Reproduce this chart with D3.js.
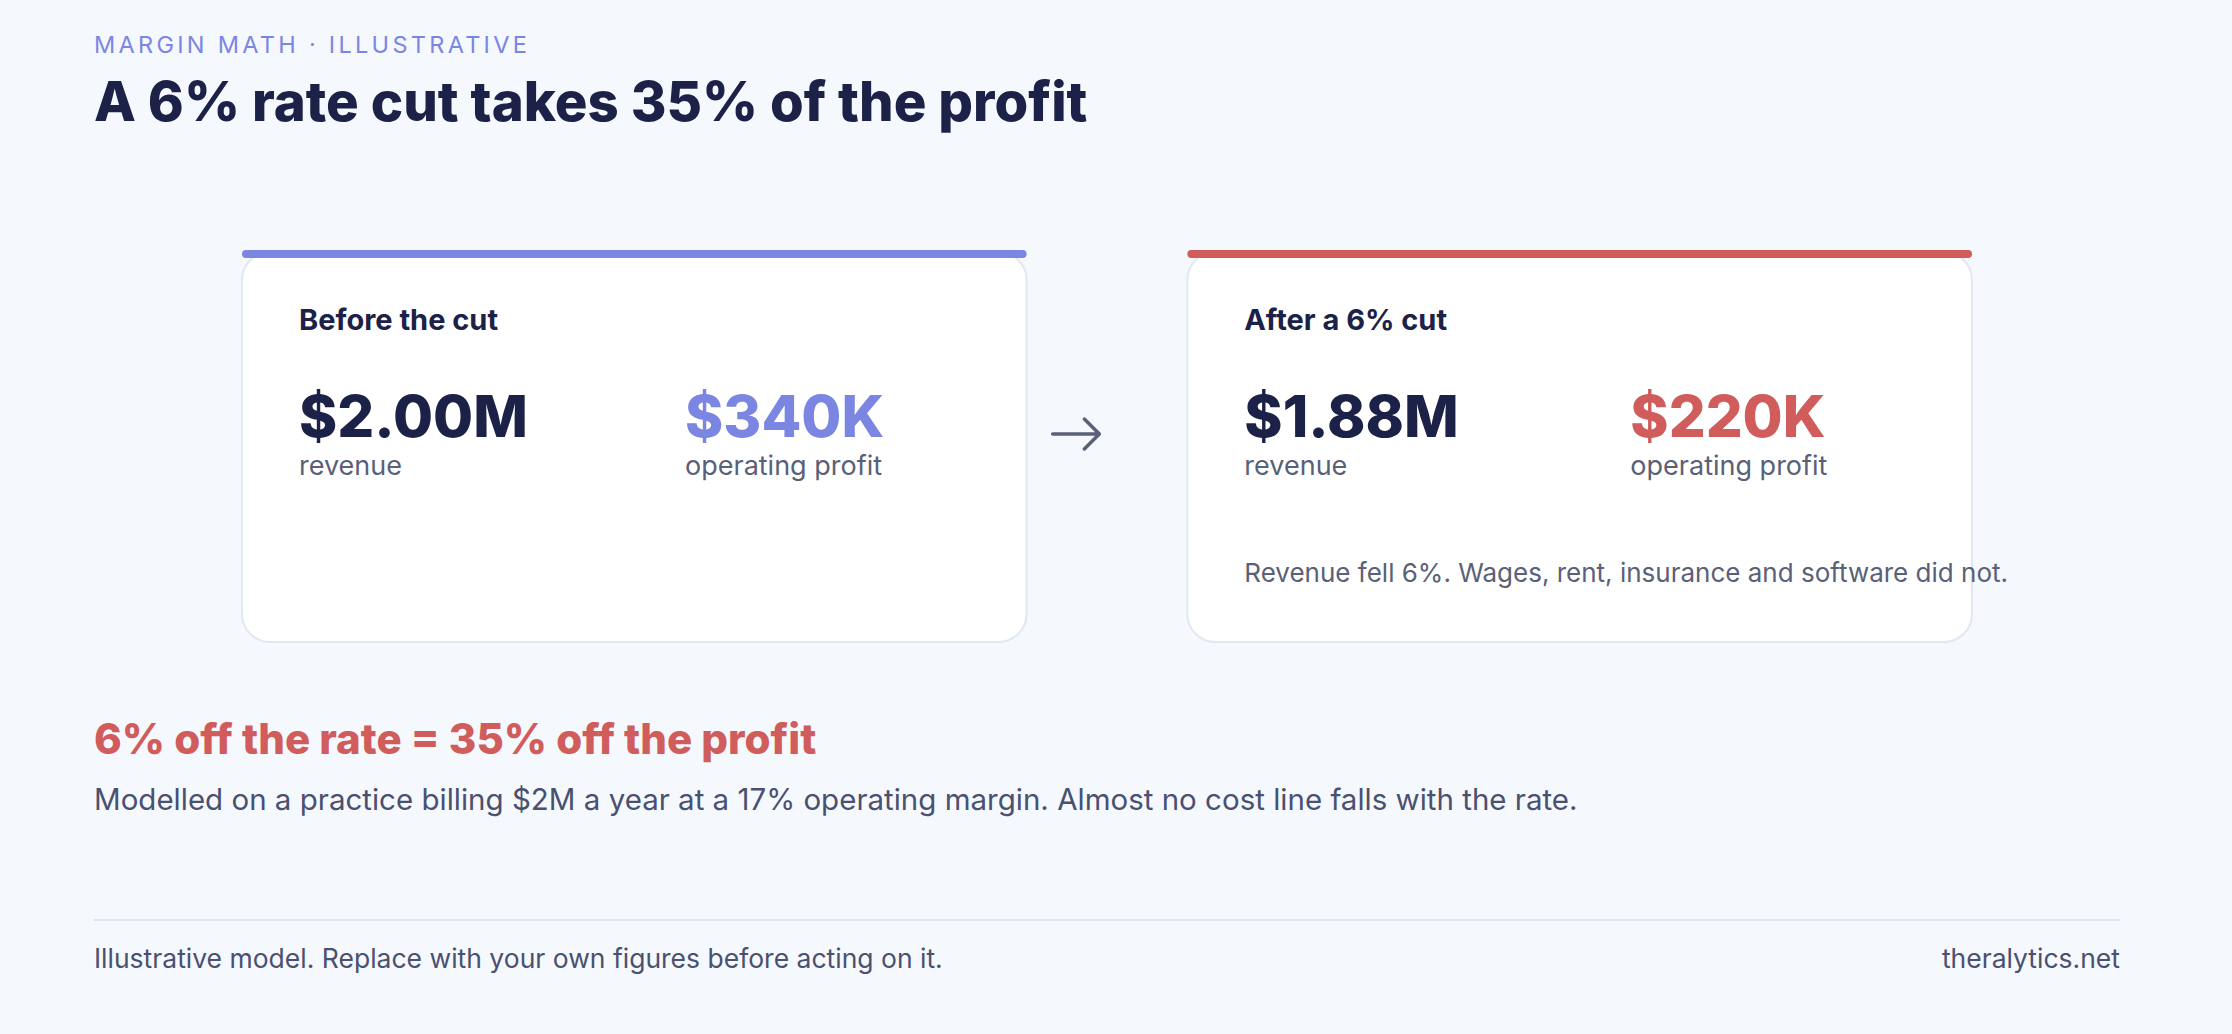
<!DOCTYPE html>
<html>
<head>
<meta charset="utf-8">
<script src="https://cdn.jsdelivr.net/npm/d3@7"></script>
<style>
  html, body { margin: 0; padding: 0; background: #f5f8fd; }
  text { font-family: Inter, "Noto Sans", sans-serif; }
</style>
</head>
<body>
<div id="chart"></div>
<script>
'use strict';

var kicker = "MARGIN MATH · ILLUSTRATIVE";
var title = "A 6% rate cut takes 35% of the profit";
var cardTitles = ["Before the cut", "After a 6% cut"];
var revenues = ["$2.00M", "$1.88M"];
var profits = ["$340K", "$220K"];
var metricLabels = ["revenue", "operating profit"];
var cardNotes = ["", "Revenue fell 6%. Wages, rent, insurance and software did not."];
var headline = "6% off the rate = 35% off the profit";
var subline = "Modelled on a practice billing $2M a year at a 17% operating margin. Almost no cost line falls with the rate.";
var footLeft = "Illustrative model. Replace with your own figures before acting on it.";
var footRight = "theralytics.net";

var W = 2232, H = 1034;
var accents = ["#7b86e2", "#d05c5c"];
var navy = "#1c2147", grey = "#5a6078";

var svg = d3.select("#chart").append("svg")
  .attr("width", W).attr("height", H);

svg.append("rect").attr("width", W).attr("height", H).attr("fill", "#f5f8fd");

svg.append("text").attr("x", 94).attr("y", 53)
  .attr("font-size", 23.5).attr("letter-spacing", "0.14em")
  .attr("fill", "#7b86e2").text(kicker);

svg.append("text").attr("x", 94).attr("y", 121)
  .attr("font-size", 54.5).attr("font-weight", 800)
  .attr("fill", navy).text(title);

// card positions through a band scale
var x = d3.scaleBand().domain(cardTitles).range([242, 1972]).paddingInner(0.17);
var cardTop = 252, cardH = 390;

var cards = svg.selectAll("g.card").data(cardTitles).enter().append("g")
  .attr("class", "card")
  .attr("transform", function(d) { return "translate(" + x(d) + "," + cardTop + ")"; });

cards.append("rect")
  .attr("x", 0).attr("y", 0).attr("width", x.bandwidth()).attr("height", cardH)
  .attr("rx", 28).attr("fill", "#fff").attr("stroke", "#e2e7f1").attr("stroke-width", 2);

cards.append("rect")
  .attr("x", 0).attr("y", -2).attr("width", x.bandwidth()).attr("height", 8)
  .attr("rx", 4).attr("fill", function(d, i) { return accents[i]; });

cards.append("text").attr("x", 57).attr("y", 78)
  .attr("font-size", 29).attr("font-weight", 700).attr("fill", navy)
  .text(function(d) { return d; });

var colX = [57, 443];
cards.append("text").attr("x", colX[0]).attr("y", 185)
  .attr("font-size", 58).attr("font-weight", 800).attr("fill", navy)
  .text(function(d, i) { return revenues[i]; });
cards.append("text").attr("x", colX[1]).attr("y", 185)
  .attr("font-size", 58).attr("font-weight", 800)
  .attr("fill", function(d, i) { return accents[i]; })
  .text(function(d, i) { return profits[i]; });
metricLabels.forEach(function(m, j) {
  cards.append("text").attr("x", colX[j]).attr("y", 223)
    .attr("font-size", 27).attr("fill", grey).text(m);
});
cards.append("text").attr("x", 57).attr("y", 330)
  .attr("font-size", 26).attr("fill", grey)
  .text(function(d, i) { return cardNotes[i]; });

// arrow between the cards
var ax0 = x(cardTitles[0]) + x.bandwidth() + 26, ax1 = x(cardTitles[1]) - 88, ay = 434;
svg.append("path")
  .attr("d", "M" + ax0 + "," + ay + "H" + ax1 + "M" + (ax1 - 15) + "," + (ay - 15) + "L" + ax1 + "," + ay + "L" + (ax1 - 15) + "," + (ay + 15))
  .attr("fill", "none").attr("stroke", grey).attr("stroke-width", 3.5)
  .attr("stroke-linecap", "round").attr("stroke-linejoin", "round");

svg.append("text").attr("x", 94).attr("y", 754)
  .attr("font-size", 42).attr("font-weight", 800).attr("fill", "#d05c5c").text(headline);
svg.append("text").attr("x", 94).attr("y", 810)
  .attr("font-size", 29.5).attr("fill", "#4a5070").text(subline);

svg.append("line").attr("x1", 94).attr("x2", 2120).attr("y1", 920).attr("y2", 920)
  .attr("stroke", "#dfe3ec").attr("stroke-width", 2);

svg.append("text").attr("x", 94).attr("y", 968)
  .attr("font-size", 26.5).attr("fill", "#4a5070").text(footLeft);
svg.append("text").attr("x", 2120).attr("y", 968).attr("text-anchor", "end")
  .attr("font-size", 26.5).attr("fill", "#4a5070").text(footRight);
</script>
</body>
</html>
